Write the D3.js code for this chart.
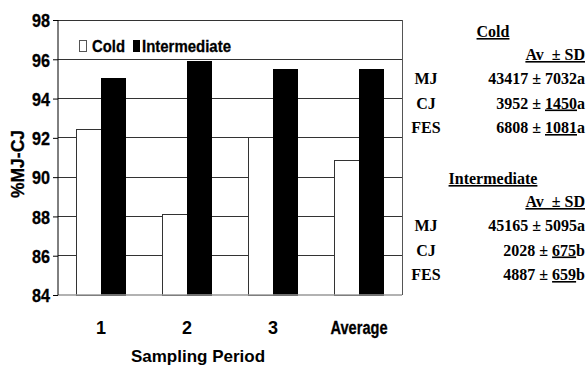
<!DOCTYPE html>
<html><head><meta charset="utf-8">
<script src="https://cdn.jsdelivr.net/npm/d3@7"></script>
<style>html,body{margin:0;padding:0;background:#fff;}svg{display:block;}</style>
</head><body>
<script>
const categories = ["1", "2", "3", "Average"];
const seriesNames = ["Cold", "Intermediate"];
const coldValues = [92.43, 88.1, 92.03, 90.85];
const intermediateValues = [95.0, 95.9, 95.47, 95.46];
const yTicks = [84, 86, 88, 90, 92, 94, 96, 98];

const statRows = ["MJ", "CJ", "FES"];
const coldAv = ["43417", "3952", "6808"];
const coldSd = ["7032", "1450", "1081"];
const coldLetter = ["a", "a", "a"];
const coldSdUnderlined = [false, true, true];
const intAv = ["45165", "2028", "4887"];
const intSd = ["5095", "675", "659"];
const intLetter = ["a", "b", "b"];
const intSdUnderlined = [false, true, true];

(function () {
const W = 587, H = 367;
const svg = d3.select("body").append("svg").attr("width", W).attr("height", H);
const pLeft = 58, pRight = 402, pTop = 20, pBottom = 295;

const x = d3.scaleBand().domain(categories).range([pLeft, pRight]).padding(0);
const step = x.step();
const xs = d3.scaleBand().domain(seriesNames).range([step / 2 - 24.5, step / 2 + 24.5]).padding(0);
const y = d3.scaleLinear().domain([84, 98]).range([pBottom, pTop]);

const sans = "'Liberation Sans', Arial, sans-serif";
const serif = "'Liberation Serif', 'Times New Roman', serif";

// gridlines
svg.append("g").selectAll("line").data(yTicks.filter(t => t > 84)).join("line")
  .attr("x1", pLeft).attr("x2", pRight).attr("y1", d => y(d)).attr("y2", d => y(d))
  .attr("stroke", "#333").attr("stroke-width", 1).attr("shape-rendering", "crispEdges");
// right border
svg.append("line").attr("x1", pRight).attr("x2", pRight).attr("y1", pTop).attr("y2", pBottom)
  .attr("stroke", "#555").attr("stroke-width", 1).attr("shape-rendering", "crispEdges");

// bars
const g = svg.append("g");
categories.forEach((c, i) => {
  const vals = [coldValues[i], intermediateValues[i]];
  seriesNames.forEach((s, j) => {
    g.append("rect")
      .attr("x", x(c) + xs(s)).attr("width", xs.bandwidth())
      .attr("y", y(vals[j])).attr("height", y(84) - y(vals[j]))
      .attr("fill", j === 0 ? "#fff" : "#000")
      .attr("stroke", j === 0 ? "#333" : "#000").attr("stroke-width", 1)
      .attr("shape-rendering", "crispEdges");
  });
});

// bottom axis line
svg.append("line").attr("x1", pLeft).attr("x2", pRight).attr("y1", pBottom).attr("y2", pBottom)
  .attr("stroke", "#999").attr("stroke-width", 1.5);

// y axis
const yAxis = d3.axisLeft(y).tickValues(yTicks).tickSize(5).tickPadding(3).tickFormat(d3.format("d"));
const ya = svg.append("g").attr("transform", `translate(${pLeft},0)`).call(yAxis);
ya.select(".domain").attr("stroke", "#000").attr("d", `M0,${pTop}V${pBottom}`);
ya.selectAll(".tick line").attr("stroke", "#000");
ya.selectAll(".tick text").attr("font-family", sans).attr("font-weight", "bold")
  .attr("font-size", 19).attr("fill", "#000").attr("dy", "0.36em")
  .attr("stroke", "#000").attr("stroke-width", 0.3)
  .attr("textLength", 18).attr("lengthAdjust", "spacingAndGlyphs");

// x labels
const xa = d3.axisBottom(x).tickSize(0).tickPadding(0);
const xg = svg.append("g").attr("transform", `translate(0,${pBottom})`).call(xa);
xg.select(".domain").remove();
xg.selectAll(".tick text").attr("font-family", sans).attr("font-weight", "bold")
  .attr("font-size", 18).attr("fill", "#000").attr("y", 39).attr("dy", 0)
  .each(function (d) {
    if (d === "Average") d3.select(this).attr("textLength", 57).attr("lengthAdjust", "spacingAndGlyphs")
      .attr("stroke", "#000").attr("stroke-width", 0.3);
  });

svg.append("text").attr("x", 198).attr("y", 362).attr("text-anchor", "middle")
  .attr("font-family", sans).attr("font-weight", "bold").attr("font-size", 17)
  .text("Sampling Period");

svg.append("text").attr("transform", "translate(24,164) rotate(-90)").attr("text-anchor", "middle")
  .attr("font-family", sans).attr("font-weight", "bold").attr("font-size", 18)
  .attr("stroke", "#000").attr("stroke-width", 0.3)
  .attr("textLength", 68).attr("lengthAdjust", "spacingAndGlyphs")
  .text("%MJ-CJ");

// legend
const lg = svg.append("g");
lg.append("rect").attr("x", 79.5).attr("y", 40.5).attr("width", 7).attr("height", 11)
  .attr("fill", "#fff").attr("stroke", "#555").attr("stroke-width", 1);
lg.append("text").attr("x", 92).attr("y", 52).attr("font-family", sans).attr("font-weight", "bold")
  .attr("font-size", 17).attr("stroke", "#000").attr("stroke-width", 0.3)
  .attr("textLength", 33).attr("lengthAdjust", "spacingAndGlyphs").text(seriesNames[0]);
lg.append("rect").attr("x", 133).attr("y", 40).attr("width", 7).attr("height", 12).attr("fill", "#000");
lg.append("text").attr("x", 142).attr("y", 52).attr("font-family", sans).attr("font-weight", "bold")
  .attr("font-size", 17).attr("stroke", "#000").attr("stroke-width", 0.3)
  .attr("textLength", 89).attr("lengthAdjust", "spacingAndGlyphs").text(seriesNames[1]);

// stats tables
function table(title, titleY, av, sd, letter, under) {
  const t = svg.append("g").attr("font-family", serif).attr("font-weight", "bold").attr("font-size", 16).attr("fill", "#000");
  t.append("text").attr("x", 493).attr("y", titleY).attr("text-anchor", "middle")
    .attr("text-decoration", "underline").text(title);
  t.append("text").attr("x", 585).attr("y", titleY + 23).attr("text-anchor", "end")
    .attr("text-decoration", "underline").style("white-space", "pre").text("Av  \u00b1 SD");
  statRows.forEach((r, i) => {
    const yy = titleY + 47 + i * 24.5;
    t.append("text").attr("x", 426).attr("y", yy).attr("text-anchor", "middle").text(r);
    const tx = t.append("text").attr("x", 585).attr("y", yy).attr("text-anchor", "end");
    tx.append("tspan").text(av[i] + " \u00b1 ");
    const sp = tx.append("tspan").text(sd[i]);
    if (under[i]) sp.attr("text-decoration", "underline");
    tx.append("tspan").text(letter[i]);
  });
}
table("Cold", 37, coldAv, coldSd, coldLetter, coldSdUnderlined);
table("Intermediate", 184, intAv, intSd, intLetter, intSdUnderlined);
})();
</script>
</body></html>
